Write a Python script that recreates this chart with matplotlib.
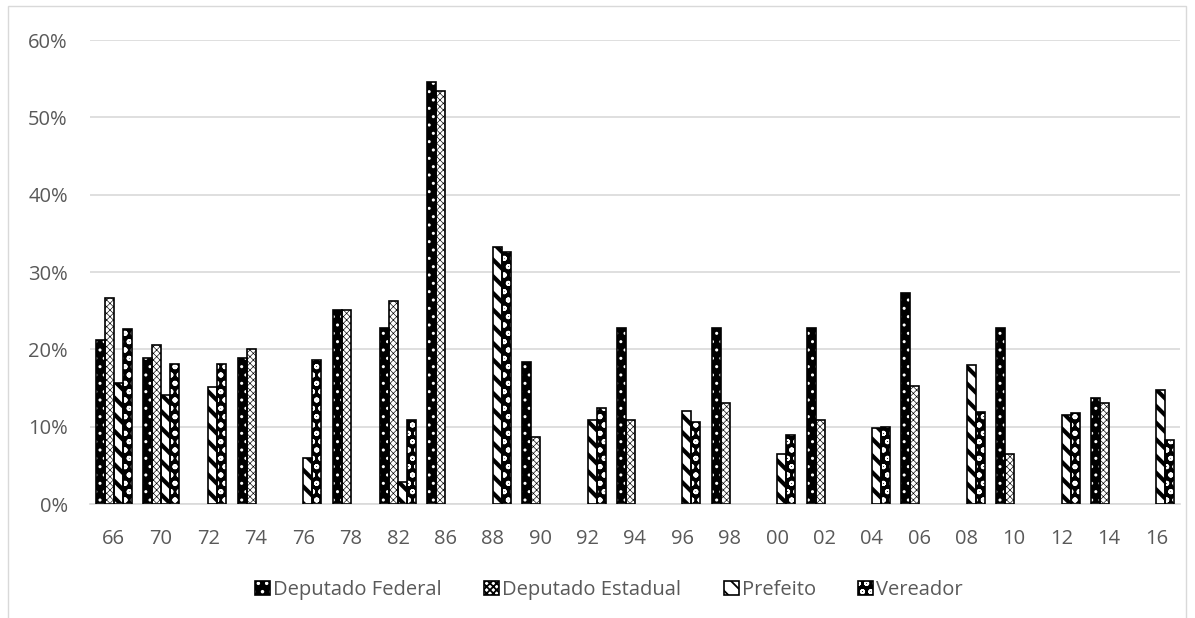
import matplotlib
matplotlib.use('Agg')
import matplotlib.pyplot as plt
from matplotlib.patches import Patch, Rectangle
from matplotlib.ticker import PercentFormatter
import numpy as np

years = ['66', '70', '72', '74', '76', '78', '82', '86', '88', '90', '92', '94',
         '96', '98', '00', '02', '04', '06', '08', '10', '12', '14', '16']

# share of seats (%), 0 = no election for that office in that year
dep_federal = [21.2, 18.9, 0, 18.9, 0, 25.1, 22.8, 54.6, 0, 18.3, 0, 22.8,
               0, 22.8, 0, 22.8, 0, 27.3, 0, 22.8, 0, 13.7, 0]
dep_estadual = [26.6, 20.6, 0, 20.0, 0, 25.1, 26.2, 53.4, 0, 8.7, 0, 10.9,
                0, 13.1, 0, 10.9, 0, 15.3, 0, 6.5, 0, 13.1, 0]
prefeito = [15.6, 14.1, 15.1, 0, 6.0, 0, 2.8, 0, 33.2, 0, 10.9, 0,
            12.0, 0, 6.5, 0, 9.8, 0, 18.0, 0, 11.5, 0, 14.7]
vereador = [22.6, 18.1, 18.1, 0, 18.6, 0, 10.9, 0, 32.6, 0, 12.4, 0,
            10.6, 0, 8.9, 0, 10.0, 0, 11.9, 0, 11.8, 0, 8.3]

series = ['Deputado Federal', 'Deputado Estadual', 'Prefeito', 'Vereador']
values = [dep_federal, dep_estadual, prefeito, vereador]

# (face, hatch colour, hatch, hatch line width)
styles = [
    ('black', 'white', '..', 1.0),
    ('white', 'black', 'xxxxx', 0.45),
    ('white', 'black', '\\\\', 3.0),
    ('black', 'white', 'oo', 1.3),
]

plt.rcParams['font.family'] = ['Open Sans', 'DejaVu Sans']
grey = '#595959'

fig = plt.figure(figsize=(11.95, 6.18), dpi=100)
ax = fig.add_axes([90 / 1195, 1 - 504 / 618, 1090 / 1195, 464 / 618])

x = np.arange(len(years))
w = 0.19
offsets = (np.arange(4) - 1.5) * w

handles = []
for k, (name, vals) in enumerate(zip(series, values)):
    face, hcol, hatch, hlw = styles[k]
    vals = np.array(vals, dtype=float)
    keep = vals > 0
    xs = x[keep] + offsets[k]
    plt.rcParams['hatch.linewidth'] = hlw
    fill = ax.bar(xs, vals[keep], w, color=face, edgecolor=hcol, hatch=hatch,
                  linewidth=0, zorder=2)
    for b in fill:
        if hasattr(b, 'set_hatch_linewidth'):
            b.set_hatch_linewidth(hlw)
    ax.bar(xs, vals[keep], w, fill=False, edgecolor='black', linewidth=1.2,
           zorder=3)
    p1 = Patch(facecolor=face, edgecolor=hcol, hatch=hatch, linewidth=0)
    if hasattr(p1, 'set_hatch_linewidth'):
        p1.set_hatch_linewidth(hlw)
    p2 = Patch(fill=False, edgecolor='black', linewidth=1.2)
    handles.append((p1, p2))

ax.set_xlim(-0.5, len(years) - 0.5)
ax.set_ylim(0, 60)
ax.set_yticks(np.arange(0, 61, 10))
ax.yaxis.set_major_formatter(PercentFormatter(decimals=0))
ax.set_xticks(x)
ax.set_xticklabels(years)
ax.grid(axis='y', color='#d9d9d9', linewidth=1.2, zorder=0)
ax.set_axisbelow(True)
for s in ['top', 'right', 'left']:
    ax.spines[s].set_visible(False)
ax.spines['bottom'].set_color('#d9d9d9')
ax.spines['bottom'].set_linewidth(1.2)
ax.tick_params(length=0, colors=grey, labelsize=14.5)
ax.tick_params(axis='x', pad=18)
ax.tick_params(axis='y', pad=16)

fig.legend(handles, series, loc='center', bbox_to_anchor=(609 / 1195, 1 - 590 / 618),
           ncol=4, frameon=False, fontsize=14.5, labelcolor=grey,
           handlelength=0.75, handleheight=0.75, handletextpad=0.15,
           columnspacing=2.1)

# chart area border
fig.patches.append(Rectangle((8 / 1195, -0.01), 1178 / 1195, 1.0, fill=False,
                             edgecolor='#d9d9d9', linewidth=1,
                             transform=fig.transFigure))

fig.savefig('out.png', dpi=100)
